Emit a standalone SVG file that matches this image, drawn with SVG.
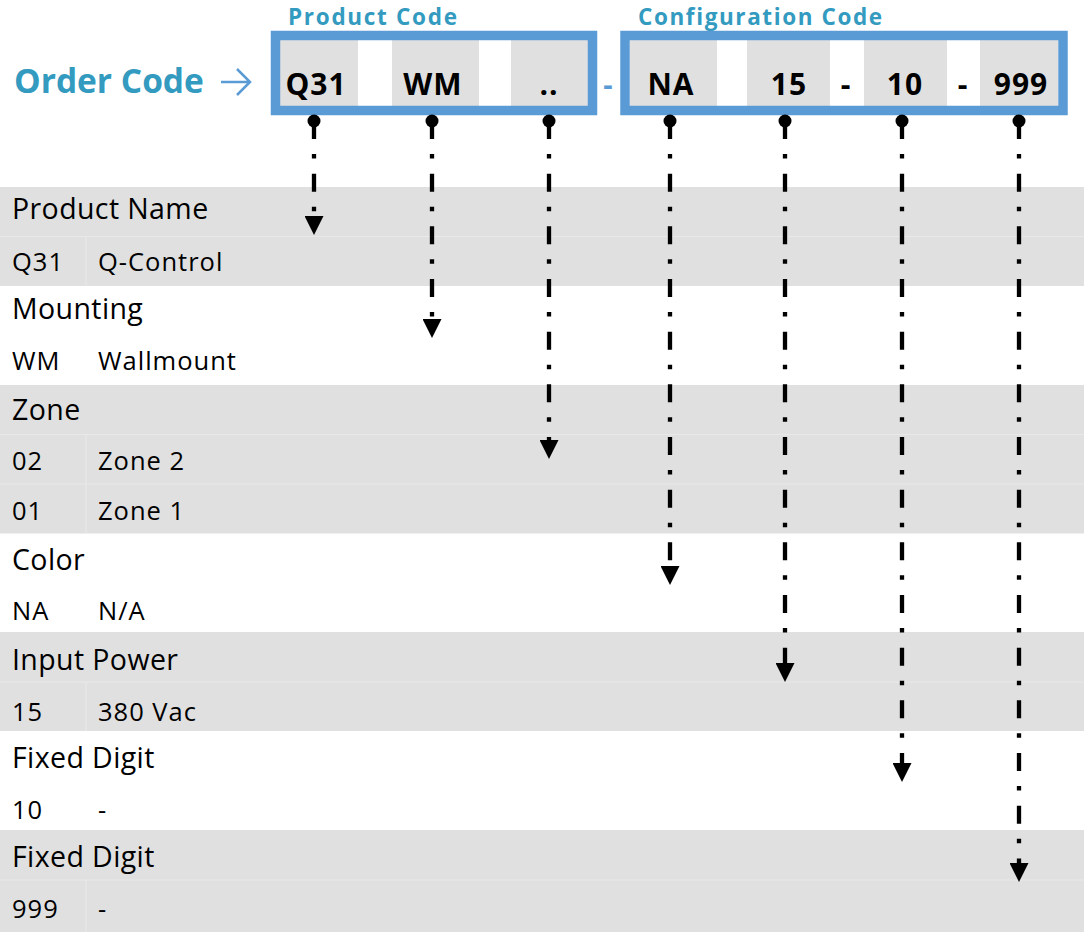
<svg xmlns="http://www.w3.org/2000/svg" width="1084" height="932" viewBox="0 0 1084 932">
<defs>
<style>
.title{font-family:"Open Sans","Noto Sans",sans-serif;font-weight:700;fill:#339ac0}
.cell{fill:#e0e0e0}
.box{fill:none;stroke:#5b9bd5;stroke-width:9.5}
.code{font-family:"Open Sans","Noto Sans",sans-serif;font-weight:700;font-size:30px;letter-spacing:1px;fill:#000;text-anchor:middle}
.band{fill:#e0e0e0}
.div{stroke:#e9e9e9;stroke-width:1}
.hdr{font-family:"Open Sans","Noto Sans",sans-serif;font-size:28.5px;letter-spacing:0.4px;fill:#000}
.sub{font-family:"Open Sans","Noto Sans",sans-serif;font-size:25.5px;letter-spacing:1px;fill:#000}
.conn{fill:none;stroke:#000;stroke-width:4.3;stroke-dasharray:18 15 4.5 15.17;marker-start:url(#dot);marker-end:url(#head)}
</style>
<marker id="dot" viewBox="0 0 14 14" refX="7" refY="7" markerWidth="14" markerHeight="14" markerUnits="userSpaceOnUse" orient="auto">
<circle cx="7" cy="7" r="6.5" fill="#000"/>
</marker>
<marker id="head" viewBox="0 0 19 19" refX="0" refY="9.5" markerWidth="19" markerHeight="19" markerUnits="userSpaceOnUse" orient="auto">
<path d="M0,0 L19,9.5 L0,19 Z" fill="#000"/>
</marker>
</defs>
<rect width="1084" height="932" fill="#fff"/>

<g id="table">
<rect class="band" x="0" y="187" width="1084" height="99"/>
<rect class="band" x="0" y="385" width="1084" height="148.5"/>
<rect class="band" x="0" y="632" width="1084" height="99"/>
<rect class="band" x="0" y="830" width="1084" height="102"/>
<line class="div" x1="0" y1="236.5" x2="1084" y2="236.5"/>
<line class="div" x1="0" y1="434.5" x2="1084" y2="434.5"/>
<line class="div" x1="0" y1="484" x2="1084" y2="484"/>
<line class="div" x1="0" y1="682" x2="1084" y2="682"/>
<line class="div" x1="0" y1="880" x2="1084" y2="880"/>
<line class="div" x1="86" y1="237" x2="86" y2="286"/>
<line class="div" x1="86" y1="435" x2="86" y2="533"/>
<line class="div" x1="86" y1="682.5" x2="86" y2="731"/>
<line class="div" x1="86" y1="880.5" x2="86" y2="932"/>
</g>

<g id="row-product-name">
<text class="hdr" x="12" y="219">Product Name</text>
<text class="sub" x="12" y="271">Q31</text><text class="sub" x="98" y="271">Q-Control</text>
</g>
<g id="row-mounting">
<text class="hdr" x="12" y="318.5">Mounting</text>
<text class="sub" x="12" y="369.5">WM</text><text class="sub" x="98" y="369.5">Wallmount</text>
</g>
<g id="row-zone">
<text class="hdr" x="12" y="419.5">Zone</text>
<text class="sub" x="12" y="470">02</text><text class="sub" x="98" y="470">Zone 2</text>
<text class="sub" x="12" y="519.5">01</text><text class="sub" x="98" y="519.5">Zone 1</text>
</g>
<g id="row-color">
<text class="hdr" x="12" y="569.5">Color</text>
<text class="sub" x="12" y="619.5">NA</text><text class="sub" x="98" y="619.5">N/A</text>
</g>
<g id="row-input-power">
<text class="hdr" x="12" y="669.5">Input Power</text>
<text class="sub" x="12" y="720.5">15</text><text class="sub" x="98" y="720.5">380 Vac</text>
</g>
<g id="row-fixed-digit-1">
<text class="hdr" x="12" y="767.5">Fixed Digit</text>
<text class="sub" x="12" y="819">10</text><text class="sub" x="98" y="819">-</text>
</g>
<g id="row-fixed-digit-2">
<text class="hdr" x="12" y="867">Fixed Digit</text>
<text class="sub" x="12" y="918">999</text><text class="sub" x="98" y="918">-</text>
</g>

<g id="order-code">
<text class="title" x="14" y="93" font-size="33.5">Order Code</text>
<path d="M221,82 H250 M237,69 L250,82 L237,95" fill="none" stroke="#5b9bd5" stroke-width="2.5"/>
</g>

<g id="product-code">
<text class="title" x="288" y="24.5" font-size="22.5" letter-spacing="1.7">Product Code</text>
<rect class="cell" x="280" y="40" width="78" height="66"/>
<rect class="cell" x="392" y="40" width="87" height="66"/>
<rect class="cell" x="511" y="40" width="78" height="66"/>
<rect class="box" x="275.5" y="35.5" width="317" height="75"/>
<text class="code" x="316" y="95">Q31</text>
<text class="code" x="433" y="95">WM</text>
<text class="code" x="549" y="95">..</text>
</g>

<g id="separator">
<text x="608" y="95" font-family="Open Sans, sans-serif" font-weight="700" font-size="29" fill="#5b9bd5" text-anchor="middle">-</text>
</g>

<g id="configuration-code">
<text class="title" x="638" y="24.5" font-size="22.5" letter-spacing="1.6">Configuration Code</text>
<rect class="cell" x="630" y="40" width="87" height="66"/>
<rect class="cell" x="747" y="40" width="83" height="66"/>
<rect class="cell" x="864" y="40" width="83" height="66"/>
<rect class="cell" x="980" y="40" width="78" height="66"/>
<rect class="box" x="625" y="35.5" width="438" height="75"/>
<text class="code" x="671" y="95">NA</text>
<text class="code" x="789" y="95">15</text>
<text class="code" x="846" y="95">-</text>
<text class="code" x="905" y="95">10</text>
<text class="code" x="963" y="95">-</text>
<text class="code" x="1021" y="95">999</text>
</g>

<g id="connectors">
<path class="conn" d="M314,121 V216"/>
<path class="conn" d="M432,121 V319"/>
<path class="conn" d="M549,121 V440"/>
<path class="conn" d="M670,121 V566"/>
<path class="conn" d="M785,121 V663"/>
<path class="conn" d="M902,121 V763"/>
<path class="conn" d="M1019,121 V863"/>
</g>
</svg>
